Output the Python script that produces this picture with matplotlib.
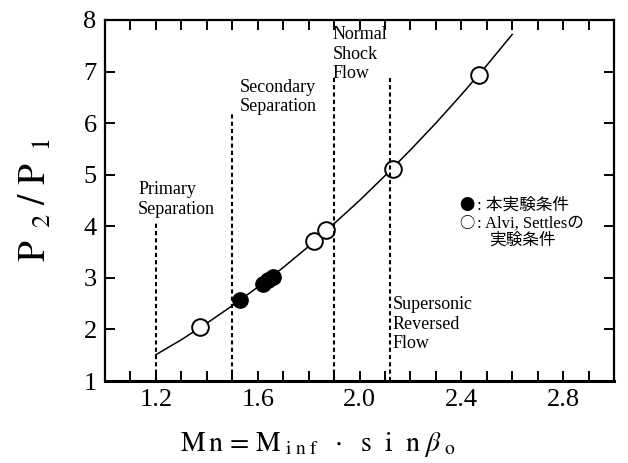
import matplotlib.pyplot as plt
import numpy as np

# curve
curve_x = [1.2, 1.3, 1.4, 1.5, 1.6, 1.7, 1.8, 1.9, 2.0, 2.1, 2.2, 2.3, 2.4, 2.5, 2.6]
curve_y = [1.51, 1.80, 2.12, 2.46, 2.82, 3.20, 3.61, 4.05, 4.50, 4.98, 5.48, 6.00, 6.55, 7.12, 7.72]

# Alvi, Settles data (open circles)
open_x = [1.375, 1.82, 1.87, 2.13, 2.47]
open_y = [2.04, 3.72, 3.92, 5.12, 6.93]

# this experiment (filled circles)
fill_x = [1.53, 1.62, 1.64, 1.66]
fill_y = [2.57, 2.89, 2.95, 3.01]

# regime boundaries
bound_x = [1.2, 1.5, 1.9, 2.12]
bound_top = [4.1, 6.2, 6.88, 6.88]

serif = 'Liberation Serif'
jp = ['Liberation Serif', 'Noto Sans CJK JP', 'DejaVu Sans']
plt.rcParams['mathtext.fontset'] = 'stix'

fig = plt.figure(figsize=(6.28, 4.63), dpi=100)
ax = fig.add_axes([105 / 628, 1 - 381 / 463, 509 / 628, 361 / 463])

ax.plot(curve_x, curve_y, color='black', linewidth=1.1)
ax.plot(open_x, open_y, 'o', markersize=12, markerfacecolor='white',
        markeredgecolor='black', markeredgewidth=1.4)
ax.plot(fill_x, fill_y, 'o', markersize=11, color='black')

for bx, bt in zip(bound_x, bound_top):
    ax.plot([bx, bx], [1, bt], color='black', linestyle=(0, (2, 1.5)), linewidth=1.5)

# regime labels
lab_kw = dict(fontsize=13, family=serif, va='top', ha='left', linespacing=1.2)
ax.text(1.13, 4.88, 'Primary\nSeparation', **lab_kw)
ax.text(1.53, 6.86, 'Secondary\nSeparation', **lab_kw)
ax.text(1.895, 7.88, 'Normal\nShock\nFlow', **lab_kw)
ax.text(2.13, 2.65, 'Supersonic\nReversed\nFlow', **lab_kw)

# legend as text
ax.text(2.39, 4.41, '●', fontsize=11, family='Noto Sans CJK JP', va='center', ha='left')
ax.text(2.46, 4.41, ': 本実験条件', fontsize=12, family=jp, va='center', ha='left')
ax.text(2.39, 4.06, '○', fontsize=11, family='Noto Sans CJK JP', va='center', ha='left')
ax.text(2.46, 4.06, ': Alvi, Settlesの', fontsize=12, family=jp, va='center', ha='left')
ax.text(2.64, 3.73, '実験条件', fontsize=12, family=jp, va='center', ha='center')

ax.set_xlim(1.0, 3.0)
ax.set_ylim(1, 8)
ax.set_xticks(np.arange(1.2, 2.81, 0.4))
ax.set_xticklabels(['1.2', '1.6', '2.0', '2.4', '2.8'])
ax.set_xticks(np.arange(1.1, 3.0, 0.1), minor=True)
ax.set_yticks(range(1, 9))

ax.tick_params(which='both', direction='in', top=True, right=True,
               length=7, width=1.4, labelsize=19, pad=6)
for lbl in ax.get_xticklabels() + ax.get_yticklabels():
    lbl.set_family(serif)
for sp in ax.spines.values():
    sp.set_linewidth(1.6)
ax.spines['bottom'].set_linewidth(2.2)

ax.set_xlabel(r'$\mathrm{M\,n\,=\,M}_{\mathrm{\ i\ n\ f}}\ \ \cdot\ \ \mathrm{s\ \ i\ \ n}\ \beta_{\ \mathrm{o}}$',
              fontsize=20)
ax.xaxis.set_label_coords(0.418, -0.135)
ax.set_ylabel(r'$\mathrm{P}_{\ \ 2}\ /\ \mathrm{P}_{\ \ 1}$', fontsize=27, labelpad=21)

fig.savefig('out.png', dpi=100)
